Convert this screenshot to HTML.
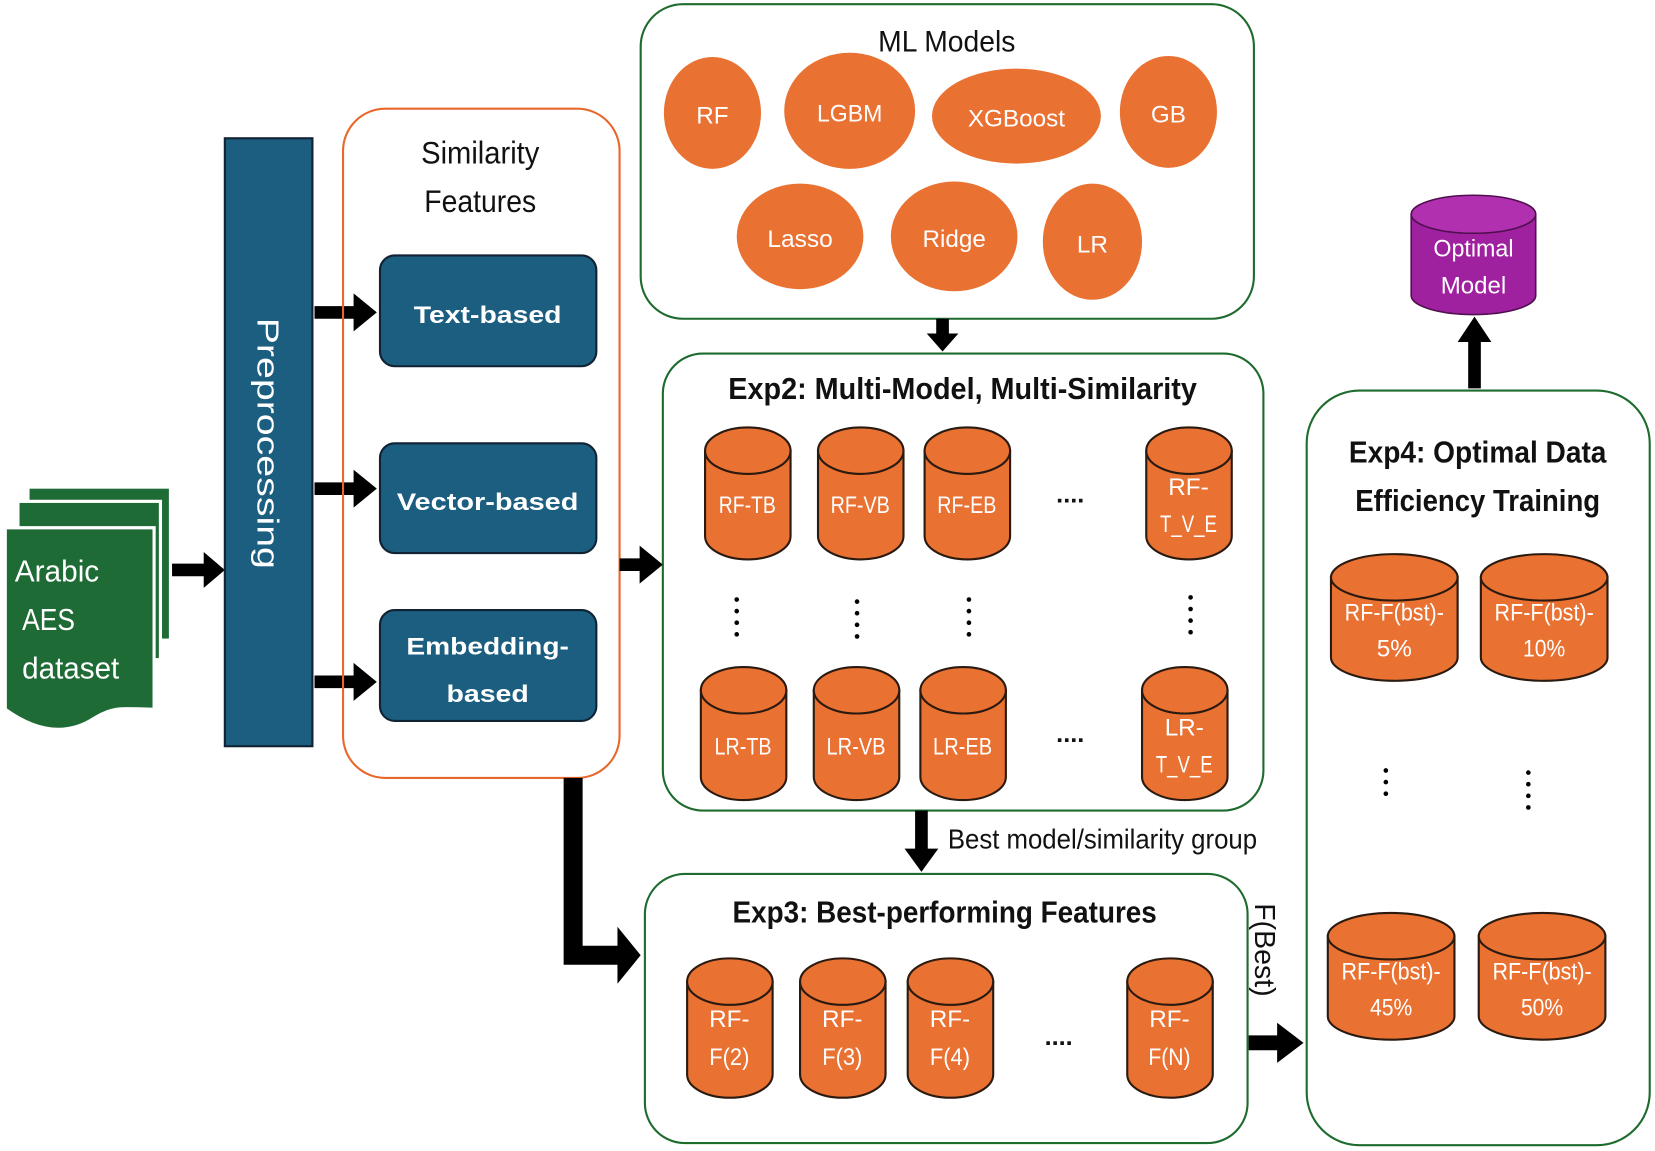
<!DOCTYPE html>
<html><head><meta charset="utf-8"><style>
html,body{margin:0;padding:0;background:#fff;width:1655px;height:1151px;overflow:hidden}
svg{display:block}
text{font-family:"Liberation Sans",sans-serif}
.w{fill:#fff;font-size:23px;text-anchor:middle}
.b{fill:#111;text-anchor:middle}
.cyl path,.cyl ellipse{fill:#e97132;stroke:#2a1a10;stroke-width:2}
.ell{fill:#e97132}
</style></head><body>
<svg width="1655" height="1151" viewBox="0 0 1568 1090.5" xmlns="http://www.w3.org/2000/svg">
<rect x="28" y="463" width="132" height="142" fill="#1e6b35"/>
<rect x="17" y="475" width="135" height="150" fill="#1e6b35" stroke="#fff" stroke-width="3"/>
<path d="M5,500 H146 V672 C120,672 110,668 90,680 C60,700 30,690 5,672 Z" fill="#1e6b35" stroke="#fff" stroke-width="3"/>
<text x="14" y="551" fill="#fff" font-size="29" textLength="80" lengthAdjust="spacingAndGlyphs">Arabic</text>
<text x="21" y="597" fill="#fff" font-size="29" textLength="50" lengthAdjust="spacingAndGlyphs">AES</text>
<text x="21" y="643" fill="#fff" font-size="29" textLength="92" lengthAdjust="spacingAndGlyphs">dataset</text>
<path d="M163,534 H193 V523 L213,540 L193,557 V546 H163 Z" fill="#000"/>
<rect x="213" y="131" width="83" height="576" fill="#1b5e80" stroke="#123" stroke-width="2"/>
<text transform="translate(244,420) rotate(90)" fill="#fff" font-size="29" text-anchor="middle" textLength="238" lengthAdjust="spacingAndGlyphs">Preprocessing</text>
<path d="M298,290 H335 V278 L357,296 L335,314 V302 H298 Z" fill="#000"/>
<path d="M298,457 H335 V445 L357,463 L335,481 V469 H298 Z" fill="#000"/>
<path d="M298,640 H335 V628 L357,646 L335,664 V652 H298 Z" fill="#000"/>
<rect x="325" y="103" width="262" height="634" rx="40" fill="none" stroke="#e8672a" stroke-width="2"/>
<text x="455" y="155" class="b" font-size="30" textLength="112" lengthAdjust="spacingAndGlyphs">Similarity</text>
<text x="455" y="201" class="b" font-size="30" textLength="106" lengthAdjust="spacingAndGlyphs">Features</text>
<rect x="360" y="242" width="205" height="105" rx="14" fill="#1b5e80" stroke="#123" stroke-width="2"/>
<text x="462" y="306" class="w" font-size="30" font-weight="bold" textLength="140" lengthAdjust="spacingAndGlyphs">Text-based</text>
<rect x="360" y="420" width="205" height="104" rx="14" fill="#1b5e80" stroke="#123" stroke-width="2"/>
<text x="462" y="483" class="w" font-size="30" font-weight="bold" textLength="172" lengthAdjust="spacingAndGlyphs">Vector-based</text>
<rect x="360" y="578" width="205" height="105" rx="14" fill="#1b5e80" stroke="#123" stroke-width="2"/>
<text x="462" y="620" class="w" font-size="30" font-weight="bold" textLength="154" lengthAdjust="spacingAndGlyphs">Embedding-</text>
<text x="462" y="665" class="w" font-size="30" font-weight="bold" textLength="78" lengthAdjust="spacingAndGlyphs">based</text>
<rect x="607" y="4" width="581" height="298" rx="40" fill="none" stroke="#1e6b2e" stroke-width="2"/>
<text x="897" y="49" class="b" font-size="28" textLength="130" lengthAdjust="spacingAndGlyphs">ML Models</text>
<ellipse class="ell" cx="675" cy="107" rx="46" ry="53"/><text x="675" y="117" class="w" font-size="27">RF</text>
<ellipse class="ell" cx="805" cy="105" rx="62" ry="55"/><text x="805" y="115" class="w" font-size="27" textLength="62" lengthAdjust="spacingAndGlyphs">LGBM</text>
<ellipse class="ell" cx="963" cy="110" rx="80" ry="45"/><text x="963" y="120" class="w" font-size="27" textLength="92" lengthAdjust="spacingAndGlyphs">XGBoost</text>
<ellipse class="ell" cx="1107" cy="106" rx="46" ry="53"/><text x="1107" y="116" class="w" font-size="27">GB</text>
<ellipse class="ell" cx="758" cy="224" rx="60" ry="50"/><text x="758" y="234" class="w" font-size="27" textLength="62" lengthAdjust="spacingAndGlyphs">Lasso</text>
<ellipse class="ell" cx="904" cy="224" rx="60" ry="52"/><text x="904" y="234" class="w" font-size="27" textLength="60" lengthAdjust="spacingAndGlyphs">Ridge</text>
<ellipse class="ell" cx="1035" cy="229" rx="47" ry="55"/><text x="1035" y="239" class="w" font-size="27">LR</text>
<path d="M887,302 H899 V316 H908 L893,333 L878,316 H887 Z" fill="#000"/>
<rect x="628" y="335" width="569" height="433" rx="38" fill="none" stroke="#1e6b2e" stroke-width="2"/>
<text x="912" y="378" class="b" font-size="29" font-weight="bold" textLength="444" lengthAdjust="spacingAndGlyphs">Exp2: Multi-Model, Multi-Similarity</text>
<path d="M587,529 H606 V517 L628,535 L606,553 V541 H587 Z" fill="#000"/>
<g class="cyl">
<path d="M668,427 V508 A40.5,22 0 0 0 749,508 V427 Z"/><ellipse cx="708.5" cy="427" rx="40.5" ry="22"/>
<path d="M775,427 V508 A40.5,22 0 0 0 856,508 V427 Z"/><ellipse cx="815.5" cy="427" rx="40.5" ry="22"/>
<path d="M876,427 V508 A40.5,22 0 0 0 957,508 V427 Z"/><ellipse cx="916.5" cy="427" rx="40.5" ry="22"/>
<path d="M1086,427 V508 A40.5,22 0 0 0 1167,508 V427 Z"/><ellipse cx="1126.5" cy="427" rx="40.5" ry="22"/>
<path d="M664,654 V736 A40.5,22 0 0 0 745,736 V654 Z"/><ellipse cx="704.5" cy="654" rx="40.5" ry="22"/>
<path d="M771,654 V736 A40.5,22 0 0 0 852,736 V654 Z"/><ellipse cx="811.5" cy="654" rx="40.5" ry="22"/>
<path d="M872,654 V736 A40.5,22 0 0 0 953,736 V654 Z"/><ellipse cx="912.5" cy="654" rx="40.5" ry="22"/>
<path d="M1082,654 V736 A40.5,22 0 0 0 1163,736 V654 Z"/><ellipse cx="1122.5" cy="654" rx="40.5" ry="22"/>
</g>
<text x="708" y="486" class="w" textLength="54" lengthAdjust="spacingAndGlyphs">RF-TB</text>
<text x="815" y="486" class="w" textLength="56" lengthAdjust="spacingAndGlyphs">RF-VB</text>
<text x="916" y="486" class="w" textLength="56" lengthAdjust="spacingAndGlyphs">RF-EB</text>
<text x="1126" y="469" class="w">RF-</text><text x="1126" y="504" class="w" textLength="54" lengthAdjust="spacingAndGlyphs">T_V_E</text>
<text x="704" y="715" class="w" textLength="54" lengthAdjust="spacingAndGlyphs">LR-TB</text>
<text x="811" y="715" class="w" textLength="56" lengthAdjust="spacingAndGlyphs">LR-VB</text>
<text x="912" y="715" class="w" textLength="56" lengthAdjust="spacingAndGlyphs">LR-EB</text>
<text x="1122" y="697" class="w">LR-</text><text x="1122" y="732" class="w" textLength="54" lengthAdjust="spacingAndGlyphs">T_V_E</text>
<text x="1014" y="476" class="b" font-size="24" font-weight="bold">....</text>
<text x="1014" y="703" class="b" font-size="24" font-weight="bold">....</text>
<g fill="#000">
<circle cx="698" cy="568" r="2.2"/><circle cx="698" cy="579" r="2.2"/><circle cx="698" cy="590" r="2.2"/><circle cx="698" cy="601" r="2.2"/>
<circle cx="812" cy="570" r="2.2"/><circle cx="812" cy="581" r="2.2"/><circle cx="812" cy="592" r="2.2"/><circle cx="812" cy="603" r="2.2"/>
<circle cx="918" cy="568" r="2.2"/><circle cx="918" cy="579" r="2.2"/><circle cx="918" cy="590" r="2.2"/><circle cx="918" cy="601" r="2.2"/>
<circle cx="1128" cy="566" r="2.2"/><circle cx="1128" cy="577" r="2.2"/><circle cx="1128" cy="588" r="2.2"/><circle cx="1128" cy="599" r="2.2"/>
<circle cx="1313" cy="730" r="2.2"/><circle cx="1313" cy="741" r="2.2"/><circle cx="1313" cy="752" r="2.2"/>
<circle cx="1448" cy="732" r="2.2"/><circle cx="1448" cy="743" r="2.2"/><circle cx="1448" cy="754" r="2.2"/><circle cx="1448" cy="765" r="2.2"/>
</g>
<path d="M867,768 H879 V804 H889 L873,826 L857,804 H867 Z" fill="#000"/>
<text x="898" y="804" fill="#111" font-size="26" textLength="293" lengthAdjust="spacingAndGlyphs">Best model/similarity group</text>
<path d="M534,737 H552 V896 H585 V878 L607,905 L585,932 V914 H534 Z" fill="#000"/>
<rect x="611" y="828" width="571" height="255" rx="38" fill="none" stroke="#1e6b2e" stroke-width="2"/>
<text x="895" y="874" class="b" font-size="29" font-weight="bold" textLength="402" lengthAdjust="spacingAndGlyphs">Exp3: Best-performing Features</text>
<g class="cyl">
<path d="M651,930 V1018 A40.5,22 0 0 0 732,1018 V930 Z"/><ellipse cx="691.5" cy="930" rx="40.5" ry="22"/>
<path d="M758,930 V1018 A40.5,22 0 0 0 839,1018 V930 Z"/><ellipse cx="798.5" cy="930" rx="40.5" ry="22"/>
<path d="M860,930 V1018 A40.5,22 0 0 0 941,1018 V930 Z"/><ellipse cx="900.5" cy="930" rx="40.5" ry="22"/>
<path d="M1068,930 V1018 A40.5,22 0 0 0 1149,1018 V930 Z"/><ellipse cx="1108.5" cy="930" rx="40.5" ry="22"/>
</g>
<text x="691" y="973" class="w">RF-</text><text x="691" y="1009" class="w" textLength="38" lengthAdjust="spacingAndGlyphs">F(2)</text>
<text x="798" y="973" class="w">RF-</text><text x="798" y="1009" class="w" textLength="38" lengthAdjust="spacingAndGlyphs">F(3)</text>
<text x="900" y="973" class="w">RF-</text><text x="900" y="1009" class="w" textLength="38" lengthAdjust="spacingAndGlyphs">F(4)</text>
<text x="1108" y="973" class="w">RF-</text><text x="1108" y="1009" class="w" textLength="40" lengthAdjust="spacingAndGlyphs">F(N)</text>
<text x="1003" y="990" class="b" font-size="24" font-weight="bold">....</text>
<text transform="translate(1189,900) rotate(90)" fill="#111" font-size="27" text-anchor="middle">F(Best)</text>
<path d="M1183,981 H1210 V969 L1235,988 L1210,1007 V995 H1183 Z" fill="#000"/>
<rect x="1238" y="370" width="325" height="715" rx="50" fill="none" stroke="#1e6b2e" stroke-width="2"/>
<text x="1400" y="438" class="b" font-size="29" font-weight="bold" textLength="244" lengthAdjust="spacingAndGlyphs">Exp4: Optimal Data</text>
<text x="1400" y="484" class="b" font-size="29" font-weight="bold" textLength="232" lengthAdjust="spacingAndGlyphs">Efficiency Training</text>
<g class="cyl">
<path d="M1261,547 V623 A60,22 0 0 0 1381,623 V547 Z"/><ellipse cx="1321" cy="547" rx="60" ry="22"/>
<path d="M1403,547 V623 A60,22 0 0 0 1523,623 V547 Z"/><ellipse cx="1463" cy="547" rx="60" ry="22"/>
<path d="M1258,887 V963 A60,22 0 0 0 1378,963 V887 Z"/><ellipse cx="1318" cy="887" rx="60" ry="22"/>
<path d="M1401,887 V963 A60,22 0 0 0 1521,963 V887 Z"/><ellipse cx="1461" cy="887" rx="60" ry="22"/>
</g>
<text x="1321" y="588" class="w" textLength="94" lengthAdjust="spacingAndGlyphs">RF-F(bst)-</text><text x="1321" y="622" class="w">5%</text>
<text x="1463" y="588" class="w" textLength="94" lengthAdjust="spacingAndGlyphs">RF-F(bst)-</text><text x="1463" y="622" class="w" textLength="40" lengthAdjust="spacingAndGlyphs">10%</text>
<text x="1318" y="928" class="w" textLength="94" lengthAdjust="spacingAndGlyphs">RF-F(bst)-</text><text x="1318" y="962" class="w" textLength="40" lengthAdjust="spacingAndGlyphs">45%</text>
<text x="1461" y="928" class="w" textLength="94" lengthAdjust="spacingAndGlyphs">RF-F(bst)-</text><text x="1461" y="962" class="w" textLength="40" lengthAdjust="spacingAndGlyphs">50%</text>
<path d="M1391,368 V324 H1381 L1397,300 L1413,324 H1403 V368 Z" fill="#000"/>
<path d="M1337,203 V280 A59,18 0 0 0 1455,280 V203 Z" fill="#a0219f" stroke="#501050" stroke-width="1.5"/>
<ellipse cx="1396" cy="203" rx="59" ry="18" fill="#b030b0" stroke="#501050" stroke-width="1.5"/>
<text x="1396" y="243" class="w" textLength="76" lengthAdjust="spacingAndGlyphs">Optimal</text>
<text x="1396" y="278" class="w" textLength="62" lengthAdjust="spacingAndGlyphs">Model</text>
</svg>
</body></html>
